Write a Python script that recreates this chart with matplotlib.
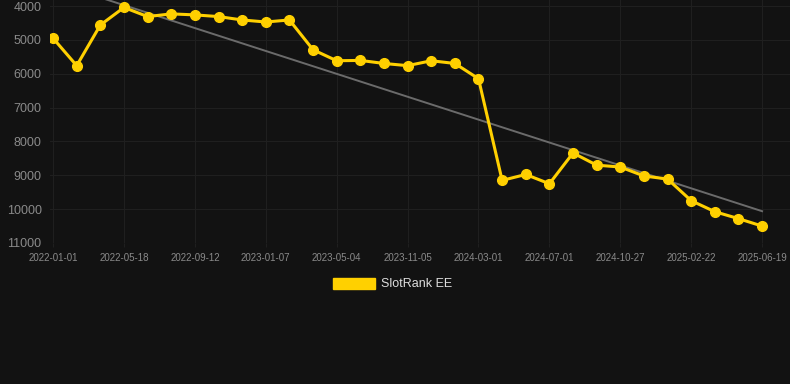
import matplotlib.pyplot as plt
from matplotlib.patches import Patch
import numpy as np

plt.rcParams['font.family'] = ['Liberation Sans', 'DejaVu Sans']

# rank values, one per point (evenly spaced on x)
ranks = [4950, 5760, 4560, 4040, 4310, 4230, 4260, 4310, 4410, 4470, 4410,
         5290, 5615, 5605, 5695, 5760, 5615, 5695, 6145,
         9150, 8975, 9250, 8340, 8700, 8755, 9020, 9110, 9750, 10075, 10280, 10500]
tick_labels = ['2022-01-01', '2022-05-18', '2022-09-12', '2023-01-07', '2023-05-04',
               '2023-11-05', '2024-03-01', '2024-07-01', '2024-10-27', '2025-02-22',
               '2025-06-19']
yticks = [4000, 5000, 6000, 7000, 8000, 9000, 10000, 11000]

bg = '#121212'
yellow = '#FFD000'

x = np.arange(len(ranks))
fig = plt.figure(figsize=(7.9, 3.84), dpi=100, facecolor=bg)
ax = fig.add_axes([50 / 790, 141 / 384, 740 / 790, 243 / 384])
ax.set_facecolor(bg)

# trend line (linear fit)
k, b = np.polyfit(x, ranks, 1)
ax.plot(x, k * x + b, color='#6b6b6b', lw=1.4, zorder=2)

ax.plot(x, ranks, color=yellow, lw=2.2, marker='o', markersize=7, zorder=3)

ax.set_xlim(-0.13, 31.18)
ax.set_ylim(11000, 3820)
ax.set_yticks(yticks)
ax.set_xticks(x[::3])
ax.set_xticklabels(tick_labels)
ax.grid(True, color='#1f1f1f', lw=0.8)
ax.set_axisbelow(True)
for s in ax.spines.values():
    s.set_visible(False)
ax.tick_params(axis='y', length=0, labelsize=9, labelcolor='#8a8a8a', pad=6)
ax.tick_params(axis='x', length=3, color='#1f1f1f', labelsize=7, labelcolor='#8a8a8a', pad=4)

fig.legend(handles=[Patch(color=yellow, label='SlotRank EE')], loc='center',
           bbox_to_anchor=(0.497, 1 - 284 / 384), frameon=False, fontsize=9,
           labelcolor='#dddddd', handlelength=3.3, handleheight=1.0, handletextpad=0.5)

fig.savefig('out.png', dpi=100, facecolor=bg)
